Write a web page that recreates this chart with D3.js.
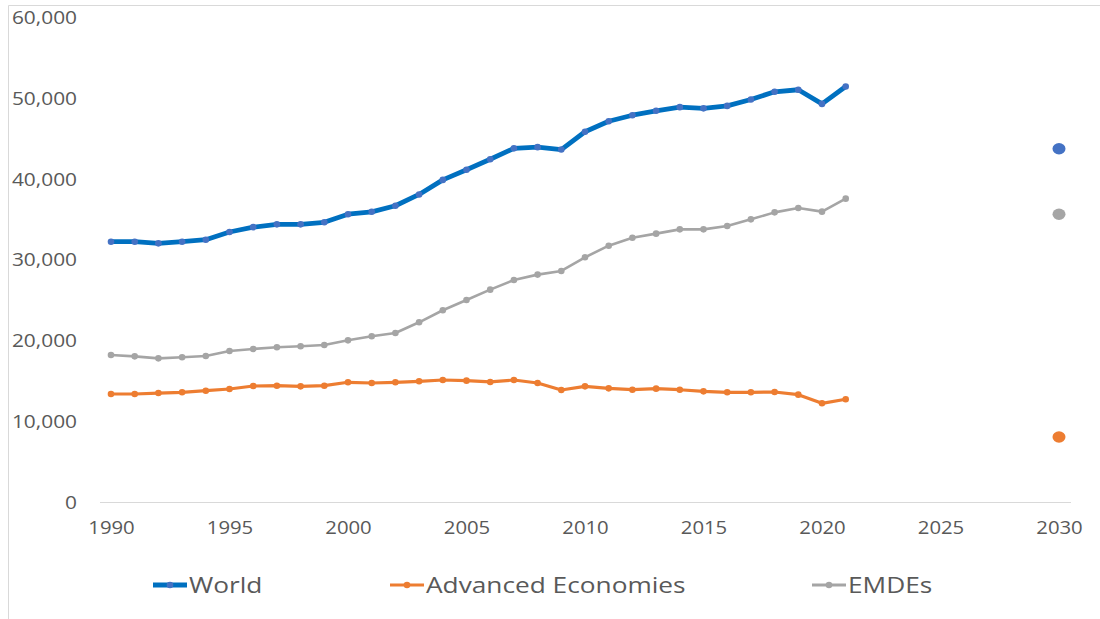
<!DOCTYPE html>
<html>
<head>
<meta charset="utf-8">
<script src="https://cdn.jsdelivr.net/npm/d3@7"></script>
<style>
  html, body { margin: 0; padding: 0; background: #ffffff; }
  svg { display: block; }
  text { font-family: "Open Sans", "DejaVu Sans", sans-serif; fill: #595959; }
</style>
</head>
<body>
<svg id="chart" width="1100" height="619"></svg>
<script>
// Observed years
const years = [1990, 1991, 1992, 1993, 1994, 1995, 1996, 1997, 1998, 1999,
               2000, 2001, 2002, 2003, 2004, 2005, 2006, 2007, 2008, 2009,
               2010, 2011, 2012, 2013, 2014, 2015, 2016, 2017, 2018, 2019,
               2020, 2021];

// Series values
const world = [32200, 32200, 32000, 32200, 32450, 33400, 34000, 34350, 34350, 34600,
               35600, 35900, 36650, 38050, 39850, 41100, 42400, 43750, 43900, 43600,
               45800, 47100, 47850, 48400, 48850, 48700, 49000, 49800, 50750, 51000,
               49250, 51400];
const advanced = [13360, 13360, 13480, 13570, 13770, 13980, 14350, 14390, 14310, 14390,
                  14810, 14720, 14810, 14930, 15090, 15010, 14850, 15090, 14720, 13860,
                  14310, 14060, 13890, 14020, 13890, 13690, 13570, 13570, 13610, 13280,
                  12210, 12710];
const emdes = [18190, 18020, 17770, 17900, 18060, 18680, 18930, 19140, 19260, 19420,
               20000, 20500, 20900, 22230, 23720, 24990, 26270, 27470, 28130, 28580,
               30270, 31710, 32700, 33200, 33730, 33730, 34150, 34970, 35830, 36370,
               35920, 37530];

// 2030 targets
const targetYear = 2030;
const worldTarget = 43710;
const advancedTarget = 8040;
const emdesTarget = 35590;

// Axis ticks
const xTicks = [1990, 1995, 2000, 2005, 2010, 2015, 2020, 2025, 2030];
const yTicks = [0, 10000, 20000, 30000, 40000, 50000, 60000];

// Series names
const seriesNames = ["World", "Advanced Economies", "EMDEs"];

const svg = d3.select("#chart");

const x = d3.scaleLinear().domain([1990, 2030]).range([111, 1059]);
const y = d3.scaleLinear().domain([0, 60000]).range([502, 17]);

const styles = [
  { line: "#0070C0", marker: "#4472C4", width: 4.8, dot: "#4472C4" },
  { line: "#ED7D31", marker: "#ED7D31", width: 3.2, dot: "#ED7D31" },
  { line: "#A5A5A5", marker: "#A5A5A5", width: 2.6, dot: "#A5A5A5" }
];
const seriesValues = [world, advanced, emdes];
const targets = [worldTarget, advancedTarget, emdesTarget];

// Chart-area frame (left and top edges)
svg.append("path")
  .attr("d", "M8.5,619 V5.5 H1100")
  .attr("fill", "none")
  .attr("stroke", "#d9d9d9")
  .attr("stroke-width", 1);

// Category baseline
svg.append("line")
  .attr("x1", x.range()[0] - 11).attr("x2", x.range()[1] + 12)
  .attr("y1", y(0) + 0.5).attr("y2", y(0) + 0.5)
  .attr("stroke", "#d9d9d9").attr("stroke-width", 1);

// Y axis labels
const yAxis = svg.append("g")
  .attr("transform", "translate(77,0)")
  .call(d3.axisLeft(y).tickValues(yTicks).tickFormat(d3.format(",")).tickSize(0).tickPadding(0));
yAxis.select(".domain").remove();
yAxis.selectAll("text")
  .attr("x", 0).attr("dy", "0.36em")
  .attr("transform", "scale(1.16,1)")
  .style("font-family", "'Open Sans', 'DejaVu Sans', sans-serif")
  .style("font-size", "18px").style("fill", "#595959");

// X axis labels
const xAxis = svg.append("g")
  .attr("transform", "translate(0,528)")
  .call(d3.axisBottom(x).tickValues(xTicks).tickFormat(d3.format("d")).tickSize(0).tickPadding(0));
xAxis.select(".domain").remove();
xAxis.selectAll("text")
  .attr("y", 0).attr("dy", "0.36em")
  .attr("transform", "scale(1.13,1)")
  .style("font-family", "'Open Sans', 'DejaVu Sans', sans-serif")
  .style("font-size", "18px").style("fill", "#595959");

// Lines with markers
const lineGen = d3.line().x((d) => x(d[0])).y((d) => y(d[1]));

[2, 1, 0].forEach((i) => {
  const pts = years.map((yr, j) => [yr, seriesValues[i][j]]);
  const g = svg.append("g");
  g.append("path")
    .datum(pts)
    .attr("d", lineGen)
    .attr("fill", "none")
    .attr("stroke", styles[i].line)
    .attr("stroke-width", styles[i].width)
    .attr("stroke-linejoin", "round")
    .attr("stroke-linecap", "round");
  g.selectAll("circle")
    .data(pts)
    .join("circle")
    .attr("cx", (d) => x(d[0]))
    .attr("cy", (d) => y(d[1]))
    .attr("r", 3.3)
    .attr("fill", styles[i].marker);
});

// 2030 target points
svg.append("g").selectAll("ellipse")
  .data(targets)
  .join("ellipse")
  .attr("cx", x(targetYear))
  .attr("cy", (d) => y(d))
  .attr("rx", 6.5).attr("ry", 5.7)
  .attr("fill", (d, i) => styles[i].dot);

// Legend
const legendX = [153, 390, 812];
const legend = svg.append("g").attr("transform", "translate(0,585)");
seriesNames.forEach((name, i) => {
  const g = legend.append("g").attr("transform", `translate(${legendX[i]},0)`);
  g.append("line")
    .attr("x1", 0).attr("x2", 34).attr("y1", 0).attr("y2", 0)
    .attr("stroke", styles[i].line)
    .attr("stroke-width", i === 0 ? 4.8 : 3.2);
  g.append("circle").attr("cx", 17).attr("cy", 0).attr("r", 3.3).attr("fill", styles[i].marker);
  g.append("text")
    .attr("transform", "translate(36,0) scale(1.25,1)")
    .attr("dy", "0.36em")
    .style("font-size", "21px")
    .text(name);
});
</script>
</body>
</html>
